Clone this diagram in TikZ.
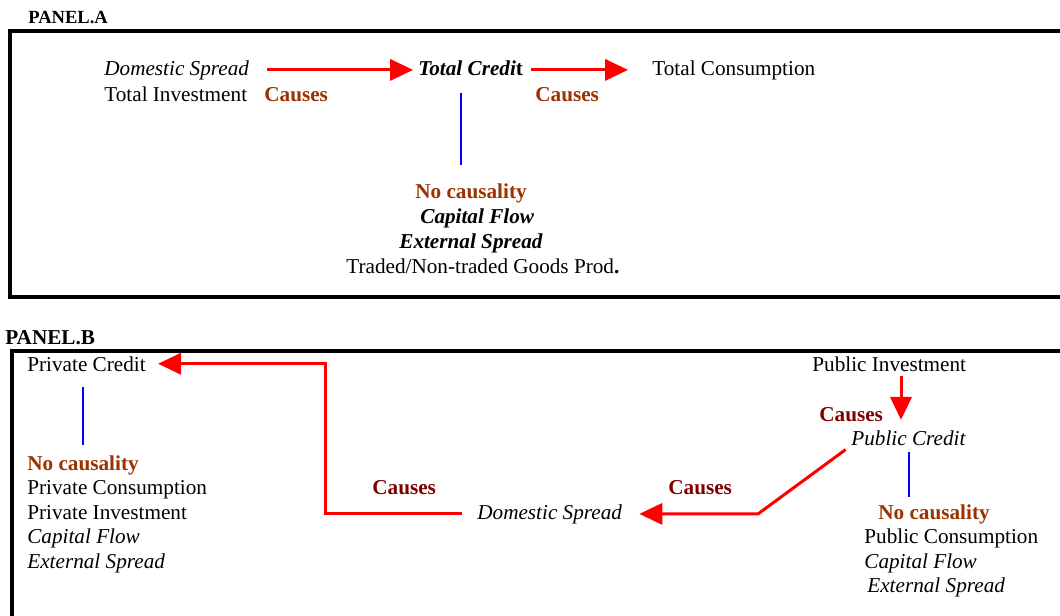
\documentclass[tikz,border=0pt]{standalone}
\usepackage{fontspec}
\setmainfont{Liberation Serif}
\usetikzlibrary{arrows.meta}

\definecolor{causeA}{RGB}{153,51,0}
\definecolor{causeB}{RGB}{128,0,0}

\begin{document}
\begin{tikzpicture}[x=0.566pt,y=-0.566pt]
\useasboundingbox (0,0) rectangle (1060,615);

% panel frames
\node[anchor=base west,inner sep=0pt,font=\fontsize{10.5}{12}\selectfont\bfseries] (PA) at (28,23) {PANEL.A};
\draw[line width=2.3pt] (1064,31) -- (10,31) -- (10,297) -- (1064,297);
\node[anchor=base west,inner sep=0pt,font=\fontsize{12}{14}\selectfont\bfseries] (PB) at (5,344) {PANEL.B};
\draw[line width=2.3pt] (1064,351) -- (12,351) -- (12,619);

\begin{scope}[every node/.style={anchor=base west,inner sep=0pt,font=\fontsize{12}{14}\selectfont}]
    % panel A
    \node (DS) at (104,75) {\textit{Domestic Spread}};
    \node (TI) at (104,101) {Total Investment};
    \node[text=causeA,font=\fontsize{12}{14}\selectfont\bfseries] (CA1) at (264,101) {Causes};
    \node (TC) at (418,75) {\textbf{\textit{Total Credi}t}};
    \node[text=causeA,font=\fontsize{12}{14}\selectfont\bfseries] (CA2) at (535,101) {Causes};
    \node (TCons) at (652,75) {Total Consumption};
    \node[text=causeA,font=\fontsize{12}{14}\selectfont\bfseries] (NCa) at (415,198) {No causality};
    \node (CFa) at (420,223) {\textbf{\textit{Capital Flow}}};
    \node (ESa) at (399,248) {\textbf{\textit{External Spread}}};
    \node (TNa) at (346,273) {Traded/Non-traded Goods Prod\textbf{.}};
    % panel B
    \node (PrC) at (27,371) {Private Credit};
    \node[text=causeA,font=\fontsize{12}{14}\selectfont\bfseries] (NCb1) at (27,470) {No causality};
    \node (PrCo) at (27,494) {Private Consumption};
    \node (PrI) at (27,519) {Private Investment};
    \node (CFb1) at (27,543) {\textit{Capital Flow}};
    \node (ESb1) at (27,568) {\textit{External Spread}};
    \node[text=causeB,font=\fontsize{12}{14}\selectfont\bfseries] (CB1) at (372,494) {Causes};
    \node (DSb) at (477,519) {\textit{Domestic Spread}};
    \node[text=causeB,font=\fontsize{12}{14}\selectfont\bfseries] (CB2) at (668,494) {Causes};
    \node (PI) at (812,371) {Public Investment};
    \node[text=causeB,font=\fontsize{12}{14}\selectfont\bfseries] (CB3) at (819,421) {Causes};
    \node (PC) at (851,445) {\textit{Public Credit}};
    \node[text=causeA,font=\fontsize{12}{14}\selectfont\bfseries] (NCb2) at (878,519) {No causality};
    \node (PuCo) at (864,543) {Public Consumption};
    \node (CFb2) at (864,568) {\textit{Capital Flow}};
    \node (ESb2) at (867,592) {\textit{External Spread}};
\end{scope}

\coordinate (K) at (325,440);
\coordinate (J) at (758,480);
\coordinate (I) at (901,400);

\begin{scope}[>={Triangle[length=13pt,width=12pt]},
              causeline/.style={draw=red,line width=1.7pt},
              every edge/.style={causeline}]
    \path [->,shorten <=10.2pt,shorten >=2.8pt] (DS.east) edge (DS.east -| TC.west);
    \path [->,shorten <=4.5pt,shorten >=13.6pt] (TCons.west -| TC.east) edge (TCons.west);
    \draw [causeline,->,shorten <=8.5pt,shorten >=6.8pt] (DSb.west) -- (DSb.west -| K) -- (K |- PrC.east) -- (PrC.east);
    \draw [causeline,->,shorten <=3.8pt,shorten >=9.6pt] (PC.south west) -- (DSb.east -| J) -- (DSb.east);
    \path [->,shorten <=2.3pt,shorten >=5.7pt] (PI.south -| I) edge (I |- PC.north);
\end{scope}

\begin{scope}[every edge/.style={draw=blue,line width=1.1pt}]
    \path [shorten <=10pt,shorten >=10pt] ([xshift=-5.7pt]TC.south) edge ([xshift=-5.7pt]TC.south |- NCa.north);
    \path [shorten <=9pt,shorten >=5.7pt] ([xshift=-2pt]PrC.south) edge ([xshift=-2pt]PrC.south |- NCb1.north);
    \path [shorten <=3.4pt,shorten >=4pt] (PC.south) edge (PC.south |- NCb2.north);
\end{scope}
\end{tikzpicture}
\end{document}
